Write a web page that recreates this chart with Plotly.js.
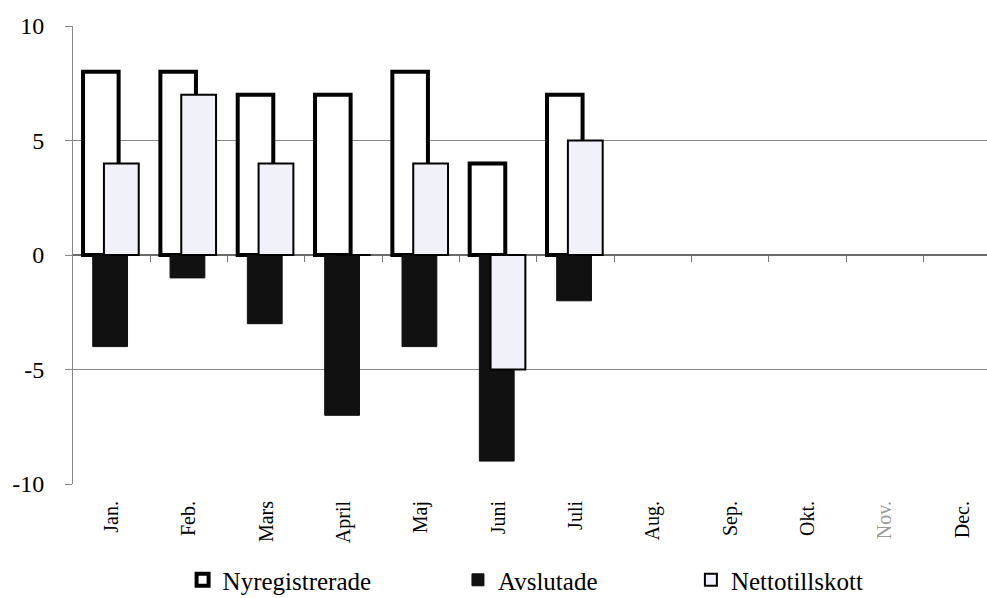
<!DOCTYPE html>
<html>
<head>
<meta charset="utf-8">
<script src="https://cdn.plot.ly/plotly-3.0.1.min.js"></script>
<style>html,body{margin:0;padding:0;background:#fff;}#chart{width:987px;height:598px;}</style>
</head>
<body>
<div id="chart"></div>
<script>
const months = ["Jan.","Feb.","Mars","April","Maj","Juni","Juli","Aug.","Sep.","Okt.","Nov.","Dec."];
const monthLabels = ["Jan.","Feb.","Mars","April","Maj","Juni","Juli","Aug.","Sep.","Okt.","<span style='color:#9a9a9a'>Nov.</span>","Dec."];
const nyregistrerade = [8, 8, 7, 7, 8, 4, 7];
const avslutade = [-4, -1, -3, -7, -4, -9, -2];
const nettotillskott = [4, 7, 4, 0, 4, -5, 5];
const yTicks = [-10, -5, 0, 5, 10];
const xBoundaries = [0.5,1.5,2.5,3.5,4.5,5.5,6.5,7.5,8.5,9.5,10.5];

const serif = "Liberation Serif";
const idx = months.map((m,i)=>i);
const xs = n => idx.slice(0, n);

const traces = [
  {type:'bar', name:'Nyregistrerade', x: xs(nyregistrerade.length), y: nyregistrerade,
   width:0.46, offset:-0.37, legend:'legend',
   marker:{color:'#ffffff', line:{color:'#000000', width:4}}},
  {type:'bar', name:'Avslutade', x: xs(avslutade.length), y: avslutade,
   width:0.45, offset:-0.245, legend:'legend2',
   marker:{color:'#111111', line:{color:'#111111', width:1}}},
  {type:'bar', name:'Nettotillskott', x: xs(nettotillskott.length), y: nettotillskott,
   width:0.45, offset:-0.10, legend:'legend3',
   marker:{color:'#f1f1f9', line:{color:'#000000', width:2}}},
  {type:'scatter', x:[0], y:[null], xaxis:'x2', showlegend:false, hoverinfo:'skip'}
];

const legendBase = {orientation:'h', yref:'container', y:0.03, yanchor:'middle',
  xref:'container', xanchor:'left', itemwidth:30, bgcolor:'rgba(0,0,0,0)',
  font:{family:serif, size:25, color:'#000'}};

const layout = {
  width:987, height:598,
  margin:{l:73, r:0, t:26, b:114, autoexpand:false},
  paper_bgcolor:'#ffffff', plot_bgcolor:'#ffffff',
  barmode:'overlay',
  font:{family:serif, color:'#000'},
  showlegend:true,
  legend: Object.assign({}, legendBase, {x:0.185}),
  legend2: Object.assign({}, legendBase, {x:0.464}),
  legend3: Object.assign({}, legendBase, {x:0.700}),
  xaxis:{type:'linear', range:[-0.5, 11.32], tickvals:idx, ticktext:monthLabels,
    tickangle:-90, showgrid:false, zeroline:false, showline:false, ticks:'', automargin:false,
    tickfont:{family:serif, size:20, color:'#000'}, ticklabelstandoff:12, fixedrange:true},
  xaxis2:{type:'linear', overlaying:'x', anchor:'free', position:0.5, range:[-0.5, 11.32],
    tickvals:xBoundaries, ticks:'outside', ticklen:6, tickcolor:'#777', tickwidth:1, automargin:false,
    showticklabels:false, showgrid:false, zeroline:false, showline:false, side:'bottom'},
  yaxis:{range:[-10, 10], tickvals:yTicks, ticktext:yTicks.map(String), automargin:false,
    showgrid:true, gridcolor:'#8a8a8a', gridwidth:1,
    zeroline:true, zerolinecolor:'#6a6a6a', zerolinewidth:1.5,
    showline:true, linecolor:'#888', linewidth:1,
    ticks:'outside', ticklen:7, tickcolor:'#888',
    tickfont:{family:serif, size:24, color:'#000'}, ticklabelstandoff:16, fixedrange:true}
};

Plotly.newPlot('chart', traces, layout, {displayModeBar:false, staticPlot:true});
</script>
</body>
</html>
